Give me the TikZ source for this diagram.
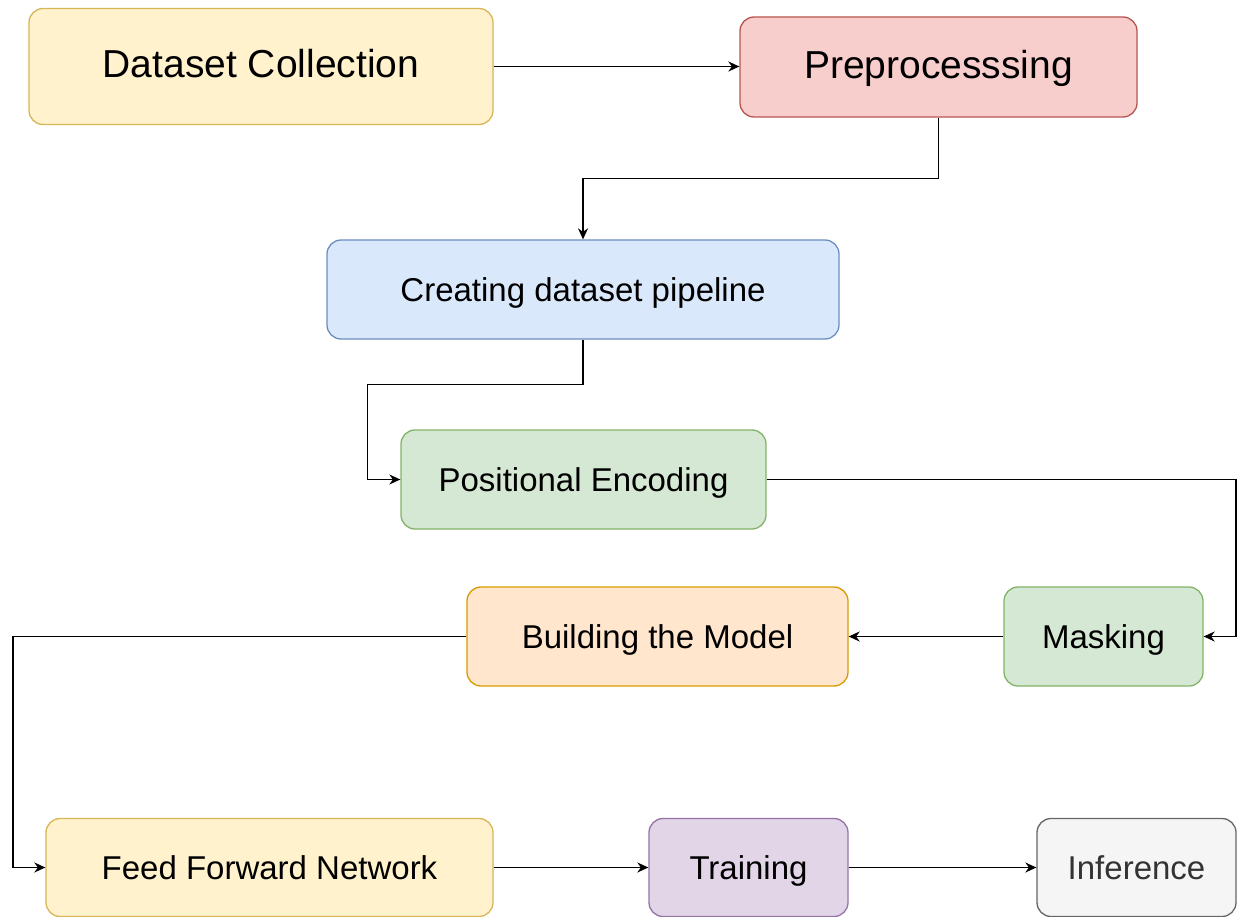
\documentclass[tikz,border=0pt]{standalone}
\usepackage{fontspec}
\setmainfont{Liberation Sans}
\usetikzlibrary{arrows.meta}
\definecolor{yfill}{HTML}{FFF2CC}\definecolor{ydraw}{HTML}{D6B656}
\definecolor{rfill}{HTML}{F8CECC}\definecolor{rdraw}{HTML}{B85450}
\definecolor{bfill}{HTML}{DAE8FC}\definecolor{bdraw}{HTML}{6C8EBF}
\definecolor{gfill}{HTML}{D5E8D4}\definecolor{gdraw}{HTML}{82B366}
\definecolor{ofill}{HTML}{FFE6CC}\definecolor{odraw}{HTML}{D79B00}
\definecolor{pfill}{HTML}{E1D5E7}\definecolor{pdraw}{HTML}{9673A6}
\definecolor{kfill}{HTML}{F5F5F5}\definecolor{kdraw}{HTML}{666666}
\definecolor{ktext}{HTML}{333333}
\begin{document}
\begin{tikzpicture}[x=1pt,y=-1pt,
  box/.style={rectangle,rounded corners=14pt,line width=1.3pt,inner sep=0pt,anchor=center,
    font=\fontsize{33}{40}\selectfont,text height=23.8pt,text depth=0pt},
  bigtext/.style={font=\fontsize{39}{47}\selectfont,text height=23pt},
  yel/.style={fill=yfill,draw=ydraw},
  red/.style={fill=rfill,draw=rdraw},
  blu/.style={fill=bfill,draw=bdraw},
  grn/.style={fill=gfill,draw=gdraw},
  org/.style={fill=ofill,draw=odraw},
  pur/.style={fill=pfill,draw=pdraw},
  gry/.style={fill=kfill,draw=kdraw,text=ktext},
  arr/.style={line width=1.5pt,draw=black,-{Stealth[length=11pt,width=10pt,inset=3.5pt]}}]
\useasboundingbox (0,0) rectangle (1238,917);
\node[box,yel,bigtext,minimum width=464pt,minimum height=116pt] (dc) at (261,66.5) {Dataset Collection};
\node[box,red,bigtext,minimum width=397pt,minimum height=100pt] (pre) at (938.5,67) {Preprocesssing};
\node[box,blu,minimum width=512pt,minimum height=99pt] (cre) at (583,289.5) {Creating dataset pipeline};
\node[box,grn,minimum width=365pt,minimum height=99pt] (pos) at (583.5,479.5) {Positional Encoding};
\node[box,grn,minimum width=199pt,minimum height=99pt] (mask) at (1103.5,636.5) {Masking};
\node[box,org,minimum width=381pt,minimum height=99pt] (bld) at (657.5,636.5) {Building the Model};
\node[box,yel,minimum width=447pt,minimum height=98pt] (ffn) at (269.5,867.5) {Feed Forward Network};
\node[box,pur,minimum width=199pt,minimum height=98pt] (trn) at (748.5,867.5) {Training};
\node[box,gry,minimum width=199pt,minimum height=98pt] (inf) at (1136.5,867.5) {Inference};
\coordinate (r1) at (1236,0);
\coordinate (l1) at (13,0);
\draw[arr] (dc.east) -- (pre.west |- dc.east);
\draw[arr] (pre.south) -- ++(0,61) -| (cre.north);
\draw[arr] (cre.south) -- ++(0,45) -| ([xshift=-33pt]pos.west) -- (pos.west);
\draw[arr] (pos.east) -| (r1 |- mask.east) -- (mask.east);
\draw[arr] (mask.west) -- (bld.east);
\draw[arr] (bld.west) -| (l1 |- ffn.west) -- (ffn.west);
\draw[arr] (ffn.east) -- (trn.west);
\draw[arr] (trn.east) -- (inf.west);
\end{tikzpicture}
\end{document}
